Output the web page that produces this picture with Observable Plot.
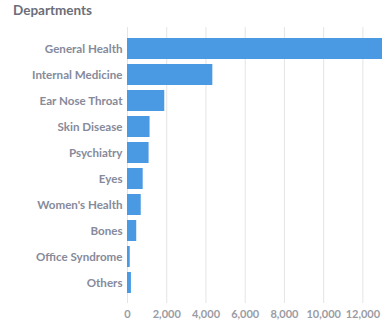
<!DOCTYPE html>
<html>
<head>
<meta charset="utf-8">
<script src="https://cdn.jsdelivr.net/npm/d3@7"></script>
<script src="https://cdn.jsdelivr.net/npm/@observablehq/plot@0.6"></script>
<style>
  html, body { margin: 0; padding: 0; background: #fff; }
  #wrap { position: relative; width: 382px; height: 320px; overflow: hidden; }
  #title { position: absolute; left: 13px; top: 2px; font-family: Lato, sans-serif; font-weight: 700; font-size: 13.5px; color: #6b6e78; }
</style>
</head>
<body>
<div id="wrap">
  <div id="title">Departments</div>
  <div id="chart"></div>
</div>
<script>
const departments = ["General Health", "Internal Medicine", "Ear Nose Throat", "Skin Disease", "Psychiatry", "Eyes", "Women's Health", "Bones", "Office Syndrome", "Others"];
const counts = [13000, 4350, 1900, 1150, 1100, 800, 700, 470, 140, 200];
const xTicks = [0, 2000, 4000, 6000, 8000, 10000, 12000];

const data = departments.map((d, i) => ({department: d, count: counts[i]}));

const chart = Plot.plot({
  width: 382,
  height: 320,
  marginTop: 27,
  marginBottom: 17,
  marginLeft: 127,
  marginRight: 0,
  style: {fontFamily: "Lato, sans-serif", background: "transparent"},
  x: {domain: [0, 13000], ticks: xTicks, tickFormat: d3.format(","), label: null, clamp: true},
  y: {domain: departments, padding: 0.2, insetTop: 2.7, insetBottom: 2.7, label: null},
  marks: [
    Plot.gridX(xTicks, {stroke: "#e4e4e4", strokeOpacity: 1, strokeWidth: 1}),
    Plot.barX(data, {x: "count", y: "department", fill: "#4a9ae3"}),
    Plot.axisX({ticks: xTicks, tickFormat: d3.format(","), tickSize: 0, tickPadding: 7, fill: "#9a9ca4", fontSize: 11, fontWeight: 700, label: null}),
    Plot.axisY({tickSize: 0, tickPadding: 5, fill: "#868a9a", fontSize: 11.6, fontWeight: 700, label: null})
  ]
});
document.getElementById("chart").appendChild(chart);
</script>
</body>
</html>
